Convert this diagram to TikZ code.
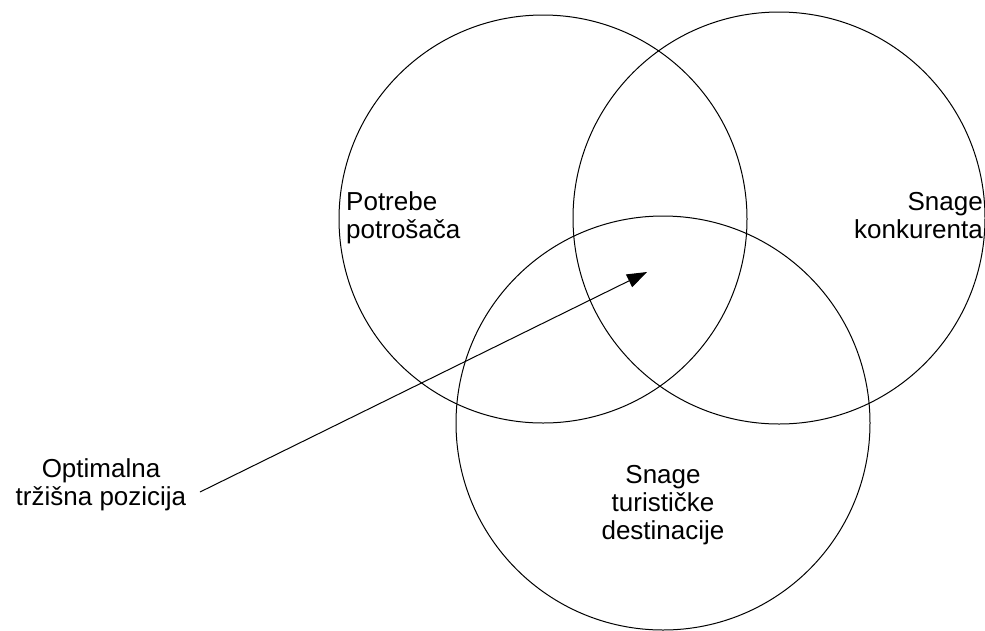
\documentclass[tikz,border=0pt]{standalone}
\usepackage{fontspec}
\setmainfont{Liberation Sans}
\usetikzlibrary{arrows.meta}
\begin{document}
\begin{tikzpicture}[x=1pt,y=-1pt,
  ring/.style={draw=black,line width=1pt},
  lbl/.style={font=\fontsize{26}{29}\selectfont,inner sep=0pt},
  pointer/.style={line width=1pt,-{Triangle[length=20pt,width=14pt]}}]
\useasboundingbox (0,0) rectangle (985,630);
% three overlapping circles
\draw[ring] (543,219) circle[radius=204];
\draw[ring] (779,218) circle[radius=206];
\draw[ring] (663,423) circle[radius=207];
% labels
\node[lbl,anchor=base west] (pot1) at (346,210) {Potrebe};
\node[lbl,anchor=base west] (pot2) at (346,238) {potrošača};
\node[lbl,anchor=base east] (kon1) at (983,210) {Snage};
\node[lbl,anchor=base east] (kon2) at (983,238) {konkurenta};
\node[lbl,anchor=base] (des1) at (663,483) {Snage};
\node[lbl,anchor=base] (des2) at (663,511) {turističke};
\node[lbl,anchor=base] (des3) at (663,539) {destinacije};
\node[lbl,anchor=base] (opt1) at (101,477) {Optimalna};
\node[lbl,anchor=base] (opt2) at (101,505) {tržišna pozicija};
% pointer to the common intersection
\coordinate (start) at (200,492);
\coordinate (core) at (647,272);
\draw[pointer] (start) -- (core);
\end{tikzpicture}
\end{document}
